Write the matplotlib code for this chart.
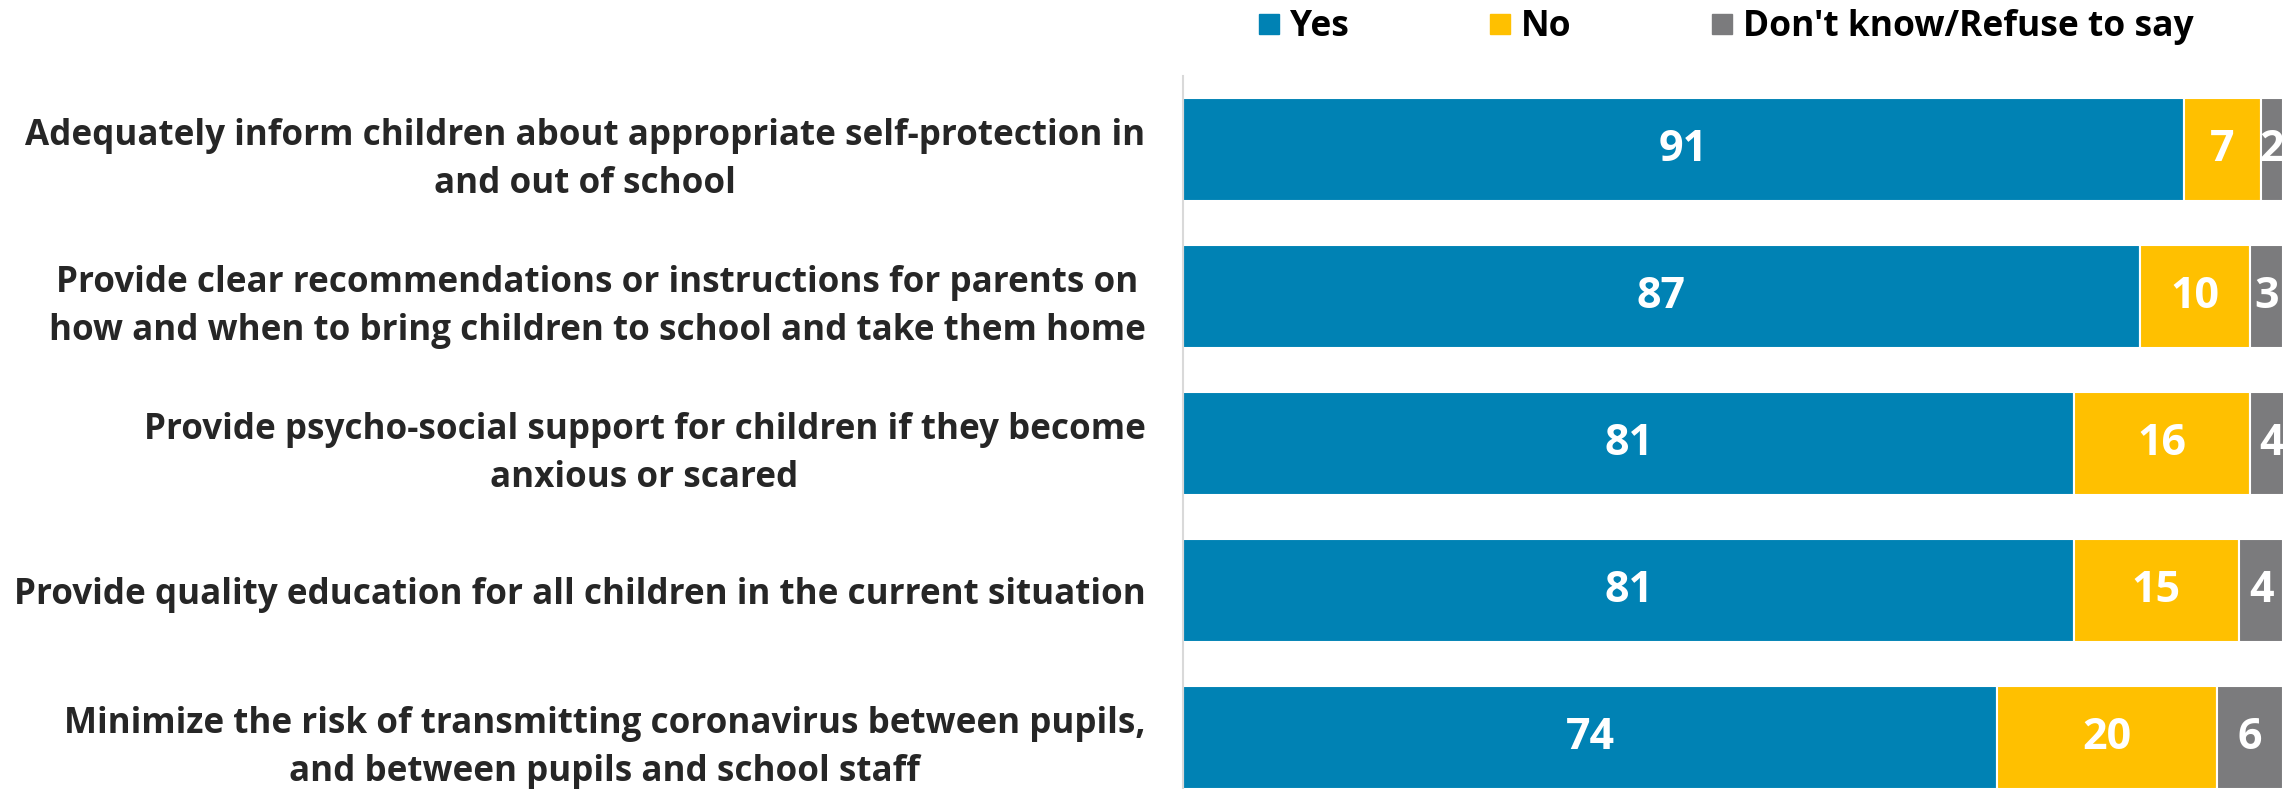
import matplotlib
matplotlib.use("Agg")
import matplotlib.pyplot as plt
from matplotlib.lines import Line2D
import numpy as np

plt.rcParams['font.family'] = ['Open Sans', 'DejaVu Sans']

# data, top row first
labels = [
    "Adequately inform children about appropriate self-protection in\nand out of school",
    "Provide clear recommendations or instructions for parents on\nhow and when to bring children to school and take them home",
    "Provide psycho-social support for children if they become\nanxious or scared",
    "Provide quality education for all children in the current situation",
    "Minimize the risk of transmitting coronavirus between pupils,\nand between pupils and school staff",
]
yes = [91, 87, 81, 81, 74]
no = [7, 10, 16, 15, 20]
dont_know = [2, 3, 4, 4, 6]
series_names = ["Yes", "No", "Don't know/Refuse to say"]
colors = ["#0082B4", "#FFC000", "#7B7B7D"]

W, H = 2295, 789
fig = plt.figure(figsize=(W / 100, H / 100), dpi=100)
ax = fig.add_axes([1183 / W, 0, (2283 - 1183) / W, 1 - 76 / H])

y = np.arange(len(labels))
left = np.zeros(len(labels))
for vals, name, col in zip([yes, no, dont_know], series_names, colors):
    vals = np.array(vals, dtype=float)
    ax.barh(y, vals, left=left, height=0.70, color=col, edgecolor='white',
            linewidth=1.5, label=name)
    for yi, l, v in zip(y, left, vals):
        ax.text(l + v / 2, yi, f"{int(v)}", ha='center', va='center',
                color='white', fontsize=31, fontweight='bold')
    left += vals

ax.set_xlim(0, 100)
ax.set_ylim(4.35, -0.5)
ax.set_xticks([])
ax.set_yticks(y)
ax.set_yticklabels(labels, fontsize=25.2, fontweight='bold', color='#262626',
                   multialignment='center', linespacing=1.45)
ax.tick_params(axis='y', length=0, pad=27)
for s in ['top', 'right', 'bottom']:
    ax.spines[s].set_visible(False)
ax.spines['left'].set_color('#D9D9D9')
ax.spines['left'].set_linewidth(1.5)

handles = [Line2D([], [], marker='s', linestyle='none', markersize=14,
                  markerfacecolor=c, markeredgecolor=c) for c in colors]
fig.legend(handles, series_names, loc='center left',
           bbox_to_anchor=(1255 / W, 1 - 27 / H), ncol=3, frameon=False,
           prop={'size': 25.5, 'weight': 'bold'}, handletextpad=0.2,
           columnspacing=3.85, handlelength=0.8, borderaxespad=0, borderpad=0)

fig.savefig("out.png", dpi=100)
